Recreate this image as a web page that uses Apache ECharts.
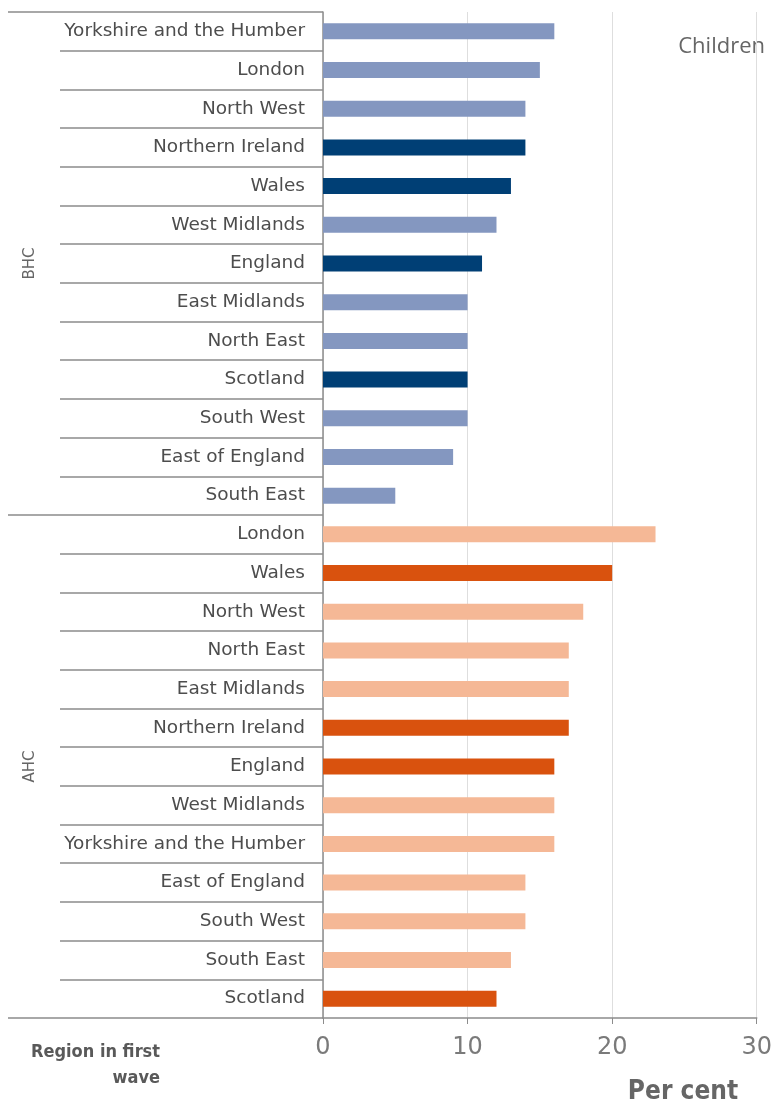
<!DOCTYPE html>
<html><head><meta charset="utf-8">
<script src="https://cdn.jsdelivr.net/npm/echarts@6/dist/echarts.min.js"></script>
<style>html,body{margin:0;padding:0;background:#fff}#c{width:775px;height:1104px}</style>
</head><body><div id="c"></div>
<script>
const groups = ['BHC', 'AHC'];
const bhcRegions = ['Yorkshire and the Humber','London','North West','Northern Ireland','Wales','West Midlands','England','East Midlands','North East','Scotland','South West','East of England','South East'];
const bhcValues = [16,15,14,14,13,12,11,10,10,10,10,9,5];
const ahcRegions = ['London','Wales','North West','North East','East Midlands','Northern Ireland','England','West Midlands','Yorkshire and the Humber','East of England','South West','South East','Scotland'];
const ahcValues = [23,20,18,17,17,17,16,16,16,14,14,13,12];
const nations = ['England','Wales','Scotland','Northern Ireland'];
const xTicks = [0,10,20,30];

const colors = {BHC:{light:'#8497C0', dark:'#003F75'}, AHC:{light:'#F5B896', dark:'#D9520E'}};
const condensed = "'DejaVu Sans Condensed', 'Liberation Sans Narrow', 'Roboto Condensed', Roboto, sans-serif";

const categories = bhcRegions.concat(ahcRegions);
const data = [];
bhcRegions.forEach((r,i)=>data.push({value:bhcValues[i], itemStyle:{color: nations.includes(r)?colors.BHC.dark:colors.BHC.light}}));
ahcRegions.forEach((r,i)=>data.push({value:ahcValues[i], itemStyle:{color: nations.includes(r)?colors.AHC.dark:colors.AHC.light}}));

const chart = echarts.init(document.getElementById('c'));
chart.setOption({
  animation:false,
  grid:{left:323, right:17, top:12, bottom:86, containLabel:false},
  xAxis:{type:'value', min:0, max:30, interval:10, position:'bottom',
    axisLine:{show:true, lineStyle:{color:'#8c8c8c', width:1.5}},
    axisTick:{show:true, length:6, lineStyle:{color:'#8c8c8c'}},
    splitLine:{show:true, lineStyle:{color:'#dedede', width:1}},
    axisLabel:{color:'#7a7a7a', fontSize:24, fontFamily:'DejaVu Sans', margin:18, formatter:v=>xTicks.includes(v)?String(v):''}
  },
  yAxis:[
    {type:'category', data:categories, inverse:true,
      axisLine:{show:true, lineStyle:{color:'#8c8c8c', width:1.5}},
      axisTick:{show:true, interval:0, length:263, lineStyle:{color:'#8c8c8c', width:1.5}},
      axisLabel:{interval:0, color:'#4d4d4d', fontSize:18.5, fontFamily:'DejaVu Sans', margin:18}
    },
    {type:'category', data:groups, inverse:true, position:'left',
      axisLine:{show:false},
      axisTick:{show:true, interval:0, length:315, lineStyle:{color:'#8c8c8c', width:1.5}},
      axisLabel:{interval:0, rotate:90, align:'center', verticalAlign:'middle', color:'#666', fontSize:15, fontFamily:'DejaVu Sans', margin:293}
    }
  ],
  series:[{type:'bar', yAxisIndex:0, data:data, barWidth:16}],
  graphic:[
    {type:'text', x:765, y:47, style:{text:'Children', fill:'#666', fontSize:22, fontFamily:'Open Sans', align:'right', verticalAlign:'middle'}},
    {type:'text', x:160, y:1039, style:{text:'Region in first\nwave', fill:'#595959', fontSize:18, fontWeight:'bold', fontFamily:condensed, align:'right', lineHeight:26}},
    {type:'text', x:683, y:1092, style:{text:'Per cent', fill:'#666', fontSize:26, fontWeight:'bold', fontFamily:condensed, align:'center', verticalAlign:'middle'}}
  ]
});
</script></body></html>
